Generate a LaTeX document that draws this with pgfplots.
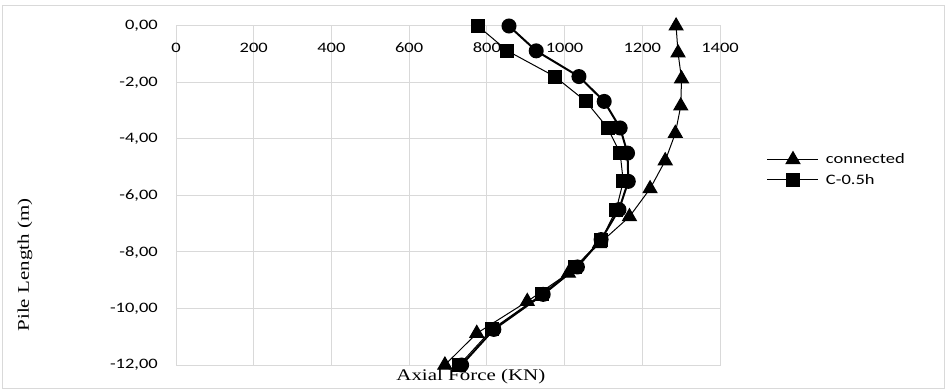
\documentclass[border=0pt]{standalone}
\usepackage{fontspec}
\setmainfont{Liberation Serif}[FakeStretch=1.29]
\newfontfamily\calibri{Carlito}[FakeStretch=1.28]
\usepackage{pgfplots}
\pgfplotsset{compat=1.18}
\definecolor{gridgrey}{RGB}{217,217,217}
\begin{document}
\begin{tikzpicture}
\useasboundingbox (0,0) rectangle (947bp,392bp);
\draw[gridgrey, line width=1bp] (2.5bp,3bp) rectangle (944.5bp,386bp);
\begin{axis}[
  at={(176bp,27bp)}, anchor=south west,
  scale only axis, width=544bp, height=339bp,
  xmin=0, xmax=1400, ymin=-12, ymax=0,
  xtick={0,200,...,1400},
  ytick={-12,-10,...,0},
  yticklabels={{-12,00},{-10,00},{-8,00},{-6,00},{-4,00},{-2,00},{0,00}},
  xticklabel pos=upper,
  grid=major,
  major grid style={draw=gridgrey, line width=1bp},
  axis line style={draw=gridgrey, line width=1bp},
  major tick length=0pt,
  tick label style={font=\calibri\fontsize{14.5}{17}\selectfont, inner sep=0pt},
  x tick label style={anchor=center, yshift=-22bp, /pgf/number format/1000 sep={}},
  y tick label style={anchor=east, xshift=-18bp},
  /pgf/number format/assume math mode=true,
  xlabel={Axial Force (KN)}, ylabel={Pile Length (m)},
  every axis x label/.style={at={(axis description cs:0.542,-0.0345)}, anchor=center, font=\fontsize{16.3}{19}\selectfont},
  every axis y label/.style={at={(axis description cs:-0.2775,0.295)}, rotate=90, anchor=center, font=\fontsize{16.3}{19}\selectfont},
  legend style={at={(axis description cs:1.086,0.578)}, anchor=west, draw=none, fill=none, inner sep=0pt, row sep=8bp,
    font=\calibri\fontsize{14.5}{17}\selectfont, nodes={inner sep=0pt},
    /tikz/every odd column/.append style={column sep=7bp}},
  legend cell align=left,
  legend image code/.code={\draw[mark repeat=2,mark phase=2,#1] plot coordinates {(0bp,0bp) (25.5bp,0bp) (51bp,0bp)};},
]
\addplot[black, line width=2bp, mark=*, mark size=6.5bp, forget plot] coordinates {
(857,0) (927,-0.88) (1037,-1.79) (1102,-2.67) (1143,-3.61) (1162,-4.5) (1164,-5.5) (1140,-6.5) (1094,-7.56) (1033,-8.53) (945,-9.5) (818,-10.74) (735,-12)};
\addplot[black, line width=1bp, mark=triangle*, mark size=8bp] coordinates {
(1287,0) (1292,-0.95) (1301,-1.87) (1299,-2.83) (1285,-3.8) (1259,-4.77) (1220,-5.76) (1167,-6.75) (1090,-7.7) (1010,-8.75) (904,-9.75) (774,-10.88) (692,-12)};
\addlegendentry{connected}
\addplot[black, line width=1bp, mark=square*, mark size=6.5bp] coordinates {
(777,0) (853,-0.88) (975,-1.79) (1055,-2.67) (1111,-3.61) (1143,-4.5) (1151,-5.5) (1133,-6.5) (1095,-7.56) (1027,-8.53) (941,-9.5) (813,-10.74) (729,-12)};
\addlegendentry{C-0.5h}
\end{axis}
\end{tikzpicture}
\end{document}
